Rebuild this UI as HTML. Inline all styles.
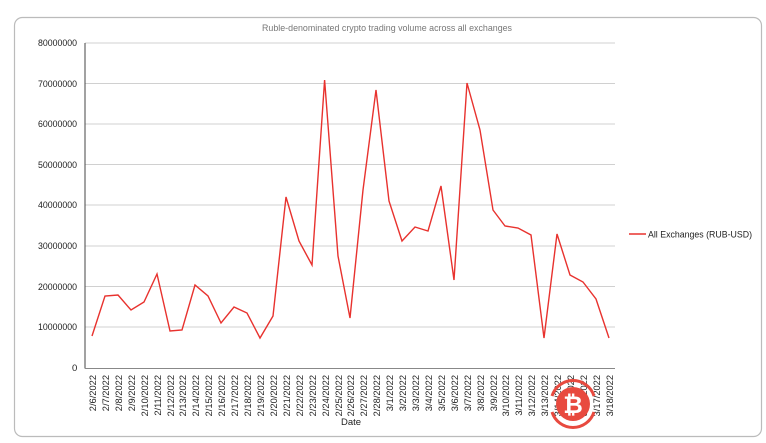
<!DOCTYPE html>
<html><head><meta charset="utf-8"><style>
html,body{margin:0;padding:0;background:#fff;}
svg{display:block;font-family:"Liberation Sans",sans-serif;}
</style></head><body>
<svg width="766" height="443" viewBox="0 0 766 443">
<rect x="14.5" y="17.5" width="747" height="419" rx="8" fill="#fff" stroke="#bbb" stroke-width="1.2"/>
<text x="262" y="31" font-size="9.5" fill="#777" textLength="250" lengthAdjust="spacingAndGlyphs">Ruble-denominated crypto trading volume across all exchanges</text>
<g stroke="#d0d0d0" stroke-width="1">
<line x1="85" x2="615" y1="43" y2="43"/><line x1="85" x2="615" y1="83.5" y2="83.5"/>
<line x1="85" x2="615" y1="124" y2="124"/><line x1="85" x2="615" y1="164.5" y2="164.5"/>
<line x1="85" x2="615" y1="205" y2="205"/><line x1="85" x2="615" y1="246" y2="246"/>
<line x1="85" x2="615" y1="286.5" y2="286.5"/><line x1="85" x2="615" y1="327" y2="327"/>
</g>
<line x1="85" y1="43" x2="85" y2="368.5" stroke="#444" stroke-width="1"/>
<line x1="85" y1="368.5" x2="615" y2="368.5" stroke="#888" stroke-width="1"/>
<g font-size="9.5" fill="#222">
<text x="38" y="46" textLength="39" lengthAdjust="spacingAndGlyphs">80000000</text><text x="38" y="87" textLength="39" lengthAdjust="spacingAndGlyphs">70000000</text>
<text x="38" y="127" textLength="39" lengthAdjust="spacingAndGlyphs">60000000</text><text x="38" y="168" textLength="39" lengthAdjust="spacingAndGlyphs">50000000</text>
<text x="38" y="208" textLength="39" lengthAdjust="spacingAndGlyphs">40000000</text><text x="38" y="249" textLength="39" lengthAdjust="spacingAndGlyphs">30000000</text>
<text x="38" y="290" textLength="39" lengthAdjust="spacingAndGlyphs">20000000</text><text x="38" y="330" textLength="39" lengthAdjust="spacingAndGlyphs">10000000</text>
<text x="72" y="371">0</text>
</g>
<polyline fill="none" stroke="#e8322e" stroke-width="1.4" points="92,336 105,296 118,295 131,310 144,302 157,274 170,331 182,330 195,285 208,296 221,323 234,307 247,313 260,338 273,316 286,197 299,241 312,265 324.6,80 338,256 350,318 363,190 376,90 389,201 402,241 415,227 428,231 441,186 454,280 467,83 480,130 493,210 505,226 518,228 531,235 544,338 557,234 570,275 583,282 596,299 609,338"/>
<g font-size="9.3" fill="#222" text-anchor="end">
<text transform="translate(96,375) rotate(-90)">2/6/2022</text>
<text transform="translate(109,375) rotate(-90)">2/7/2022</text>
<text transform="translate(122,375) rotate(-90)">2/8/2022</text>
<text transform="translate(135,375) rotate(-90)">2/9/2022</text>
<text transform="translate(148,375) rotate(-90)">2/10/2022</text>
<text transform="translate(161,375) rotate(-90)">2/11/2022</text>
<text transform="translate(174,375) rotate(-90)">2/12/2022</text>
<text transform="translate(186,375) rotate(-90)">2/13/2022</text>
<text transform="translate(199,375) rotate(-90)">2/14/2022</text>
<text transform="translate(212,375) rotate(-90)">2/15/2022</text>
<text transform="translate(225,375) rotate(-90)">2/16/2022</text>
<text transform="translate(238,375) rotate(-90)">2/17/2022</text>
<text transform="translate(251,375) rotate(-90)">2/18/2022</text>
<text transform="translate(264,375) rotate(-90)">2/19/2022</text>
<text transform="translate(277,375) rotate(-90)">2/20/2022</text>
<text transform="translate(290,375) rotate(-90)">2/21/2022</text>
<text transform="translate(303,375) rotate(-90)">2/22/2022</text>
<text transform="translate(316,375) rotate(-90)">2/23/2022</text>
<text transform="translate(329,375) rotate(-90)">2/24/2022</text>
<text transform="translate(342,375) rotate(-90)">2/25/2022</text>
<text transform="translate(354,375) rotate(-90)">2/26/2022</text>
<text transform="translate(367,375) rotate(-90)">2/27/2022</text>
<text transform="translate(380,375) rotate(-90)">2/28/2022</text>
<text transform="translate(393,375) rotate(-90)">3/1/2022</text>
<text transform="translate(406,375) rotate(-90)">3/2/2022</text>
<text transform="translate(419,375) rotate(-90)">3/3/2022</text>
<text transform="translate(432,375) rotate(-90)">3/4/2022</text>
<text transform="translate(445,375) rotate(-90)">3/5/2022</text>
<text transform="translate(458,375) rotate(-90)">3/6/2022</text>
<text transform="translate(471,375) rotate(-90)">3/7/2022</text>
<text transform="translate(484,375) rotate(-90)">3/8/2022</text>
<text transform="translate(497,375) rotate(-90)">3/9/2022</text>
<text transform="translate(509,375) rotate(-90)">3/10/2022</text>
<text transform="translate(522,375) rotate(-90)">3/11/2022</text>
<text transform="translate(535,375) rotate(-90)">3/12/2022</text>
<text transform="translate(548,375) rotate(-90)">3/13/2022</text>
<text transform="translate(561,375) rotate(-90)">3/14/2022</text>
<text transform="translate(574,375) rotate(-90)">3/15/2022</text>
<text transform="translate(587,375) rotate(-90)">3/16/2022</text>
<text transform="translate(600,375) rotate(-90)">3/17/2022</text>
<text transform="translate(613,375) rotate(-90)">3/18/2022</text>
</g>
<text x="351" y="425" font-size="9.5" fill="#222" text-anchor="middle">Date</text>
<line x1="629" y1="234" x2="646" y2="234" stroke="#e8322e" stroke-width="1.4"/>
<text x="648" y="237.5" font-size="9.5" fill="#222" textLength="104" lengthAdjust="spacingAndGlyphs">All Exchanges (RUB-USD)</text>
<g>
<path d="M552,396 A22,22 0 0 1 594,396" fill="none" stroke="#e84a3f" stroke-width="3"/>
<path d="M552,412 A22,22 0 0 0 594,412" fill="none" stroke="#e84a3f" stroke-width="3"/>
<circle cx="573" cy="404" r="17" fill="#e84a3f"/>
<text x="573" y="413" font-size="24" font-weight="bold" fill="#fff" text-anchor="middle">₿</text>
</g>
</svg>
</body></html>
